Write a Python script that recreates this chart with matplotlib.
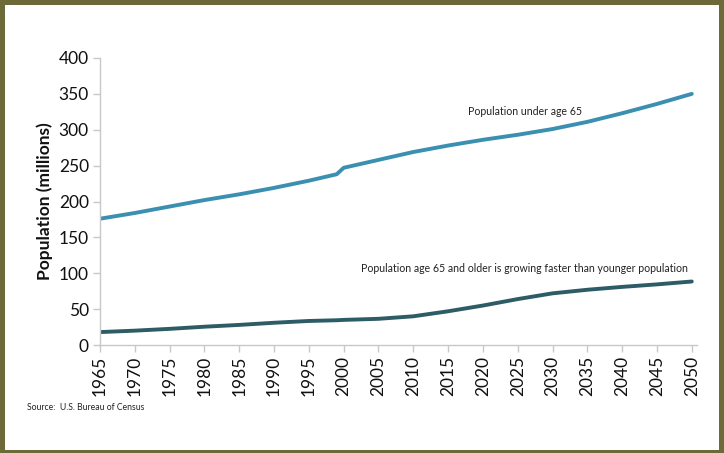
import matplotlib
matplotlib.use("Agg")
import matplotlib.pyplot as plt
from matplotlib.patches import Rectangle

# Population by age group, millions (actual and projected)
years = [1965, 1970, 1975, 1980, 1985, 1990, 1995, 1999, 2000, 2005, 2010,
         2015, 2020, 2025, 2030, 2035, 2040, 2045, 2050]
under_65 = [176, 184, 193, 202, 210, 219, 229, 238, 247, 258, 269,
            278, 286, 293, 301, 311, 323, 336, 350]
age_65_plus = [18, 20, 22.5, 25.5, 28, 31, 33.5, 34.5, 35, 36.5, 40,
               47, 55, 64, 72, 77, 81, 84.5, 88.5]

x_ticks = list(range(1965, 2051, 5))
y_ticks = list(range(0, 401, 50))

plt.rcParams["font.family"] = ["Lato", "DejaVu Sans"]

fig = plt.figure(figsize=(7.24, 4.53), dpi=100)
fig.patch.set_facecolor("white")

# olive frame around the slide
frame = "#6d6a3a"
W, H = 724, 453
for (x0, y0, w, h) in [(0, 0, 5 / W, 1), (0, 0, 1, 3 / H),
                       (0, 1 - 5 / H, 1, 5 / H), (1 - 5 / W, 0, 5 / W, 1)]:
    fig.patches.append(Rectangle((x0, y0), w, h, transform=fig.transFigure,
                                 facecolor=frame, edgecolor="none", zorder=10))

ax = fig.add_axes([100 / W, (H - 345) / H, 597 / W, 287 / H])
ax.plot(years, under_65, color="#3b8fb1", lw=2.8, solid_capstyle="round")
ax.plot(years, age_65_plus, color="#2d5b66", lw=2.8, solid_capstyle="round")

ax.set_xlim(1965, 2050.75)
ax.set_ylim(0, 400)
ax.set_xticks(x_ticks)
ax.set_xticklabels([str(t) for t in x_ticks], rotation=90, fontsize=12.5)
ax.set_yticks(y_ticks)
ax.set_yticklabels([str(t) for t in y_ticks], fontsize=12.5)

for side in ("top", "right"):
    ax.spines[side].set_visible(False)
for side in ("left", "bottom"):
    ax.spines[side].set_color("#c8c8c8")
    ax.spines[side].set_linewidth(1.0)
ax.tick_params(axis="both", direction="out", length=5, width=1.0,
               color="#c8c8c8", labelcolor="#111111", pad=3)

ax.set_ylabel("Population (millions)", fontsize=12.5, fontweight="bold",
              color="#111111", labelpad=4)

ax.text(2026, 325, "Population under age 65", fontsize=7.6,
        color="#222222", ha="center", va="center")
ax.text(2025.9, 107, "Population age 65 and older is growing faster than younger population",
        fontsize=7.6, color="#222222", ha="center", va="center")

fig.text(27 / W, 1 - 408 / H, "Source:  U.S. Bureau of Census", fontsize=6.2,
         color="#222222", ha="left", va="center")

fig.savefig("out.png", dpi=100)
